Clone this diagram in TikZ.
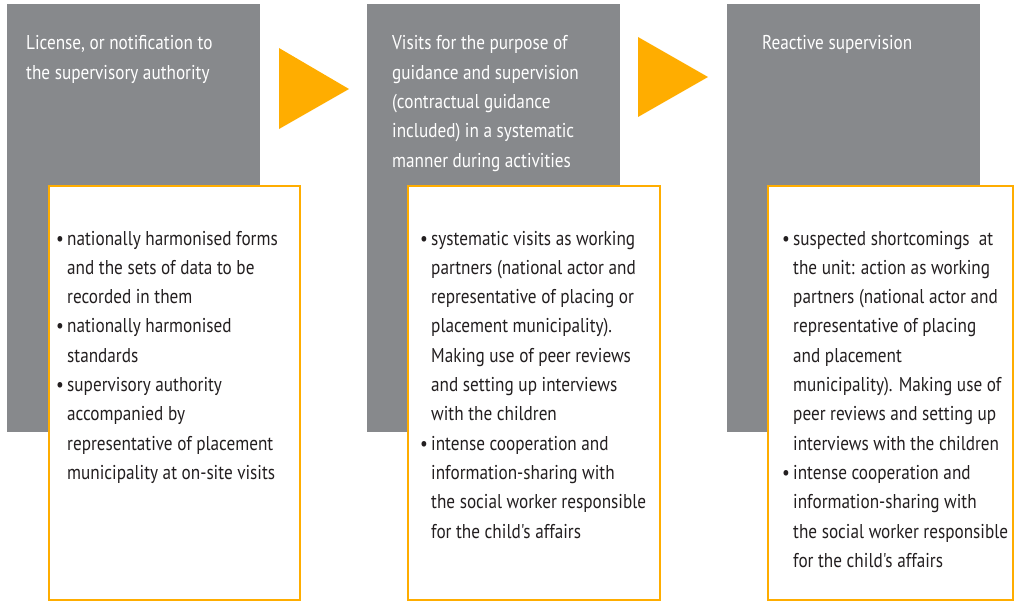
\documentclass[tikz,border=0pt]{standalone}
\usepackage{fontspec}
\setmainfont{PT Sans}[FakeStretch=0.86, Ligatures=TeXOff]
\definecolor{panelgrey}{HTML}{87898C}
\definecolor{boxorange}{HTML}{FFAD00}
\definecolor{bodytext}{HTML}{231F20}
\tikzset{
  panel/.style={fill=panelgrey, draw=none},
  bodybox/.style={fill=white, draw=boxorange, line width=2pt},
  arrowtri/.style={fill=boxorange, draw=none},
  headtxt/.style={anchor=base west, inner sep=0pt, text=white, font=\fontsize{20}{24}\selectfont},
  bodytxt/.style={anchor=base west, inner sep=0pt, text=bodytext, font=\fontsize{20}{24}\selectfont},
  bul/.style={anchor=base east, inner sep=0pt, text=bodytext, font=\fontsize{20}{24}\selectfont},
}
\newcommand{\txtlines}[5]{%
  \foreach \t [count=\i] in {#5} {%
    \node[#1] (#2-\i) at (#3, {#4 + (\i-1)*29.3}) {\t};
  }%
}
\begin{document}
\begin{tikzpicture}[x=1pt, y=-1pt]
\useasboundingbox (0,0) rectangle (1014,602);
% panels
\fill[panel] (7,4) rectangle (260,432);
\fill[panel] (367,4) rectangle (620,432);
\fill[panel] (727,4) rectangle (980,432);
% arrows
\fill[arrowtri] (279,48) -- (279,129) -- (349,89) -- cycle;
\fill[arrowtri] (638,37) -- (638,117) -- (708,77) -- cycle;
% body boxes
\draw[bodybox] (49,186) rectangle (300,600);
\draw[bodybox] (408,186) rectangle (660,600);
\draw[bodybox] (768,186) rectangle (1013,600);
% headers
\txtlines{headtxt}{ha}{26}{50}{{License, or notification to},{the supervisory authority}}
\txtlines{headtxt}{hb}{392}{50}{{Visits for the purpose of},{guidance and supervision},{(contractual guidance},{included) in a systematic},{manner during activities}}
\txtlines{headtxt}{hc}{762}{50}{{Reactive supervision}}
% body 1
\txtlines{bodytxt}{ba}{67}{245}{{nationally harmonised forms},{and the sets of data to be},{recorded in them},{nationally harmonised},{standards},{supervisory authority},{accompanied by},{representative of placement},{municipality at on-site visits}}
\node[bul] (ba-b1) at (64,245) {\textbullet};
\node[bul] (ba-b2) at (64,{245+3*29.3}) {\textbullet};
\node[bul] (ba-b3) at (64,{245+5*29.3}) {\textbullet};
% body 2
\txtlines{bodytxt}{bb}{431}{245}{{systematic visits as working},{partners (national actor and},{representative of placing or},{placement municipality).},{Making use of peer reviews},{and setting up interviews},{with the children},{intense cooperation and},{information-sharing with},{the social worker responsible},{for the child's affairs}}
\node[bul] (bb-b1) at (428,245) {\textbullet};
\node[bul] (bb-b2) at (428,{245+7*29.3}) {\textbullet};
% body 3
\txtlines{bodytxt}{bc}{793}{245}{{suspected shortcomings\ \ at},{the unit: action as working},{partners (national actor and},{representative of placing},{and placement},{municipality). Making use of},{peer reviews and setting up},{interviews with the children},{intense cooperation and},{information-sharing with},{the social worker responsible},{for the child's affairs}}
\node[bul] (bc-b1) at (790,245) {\textbullet};
\node[bul] (bc-b2) at (790,{245+8*29.3}) {\textbullet};
\end{tikzpicture}
\end{document}
